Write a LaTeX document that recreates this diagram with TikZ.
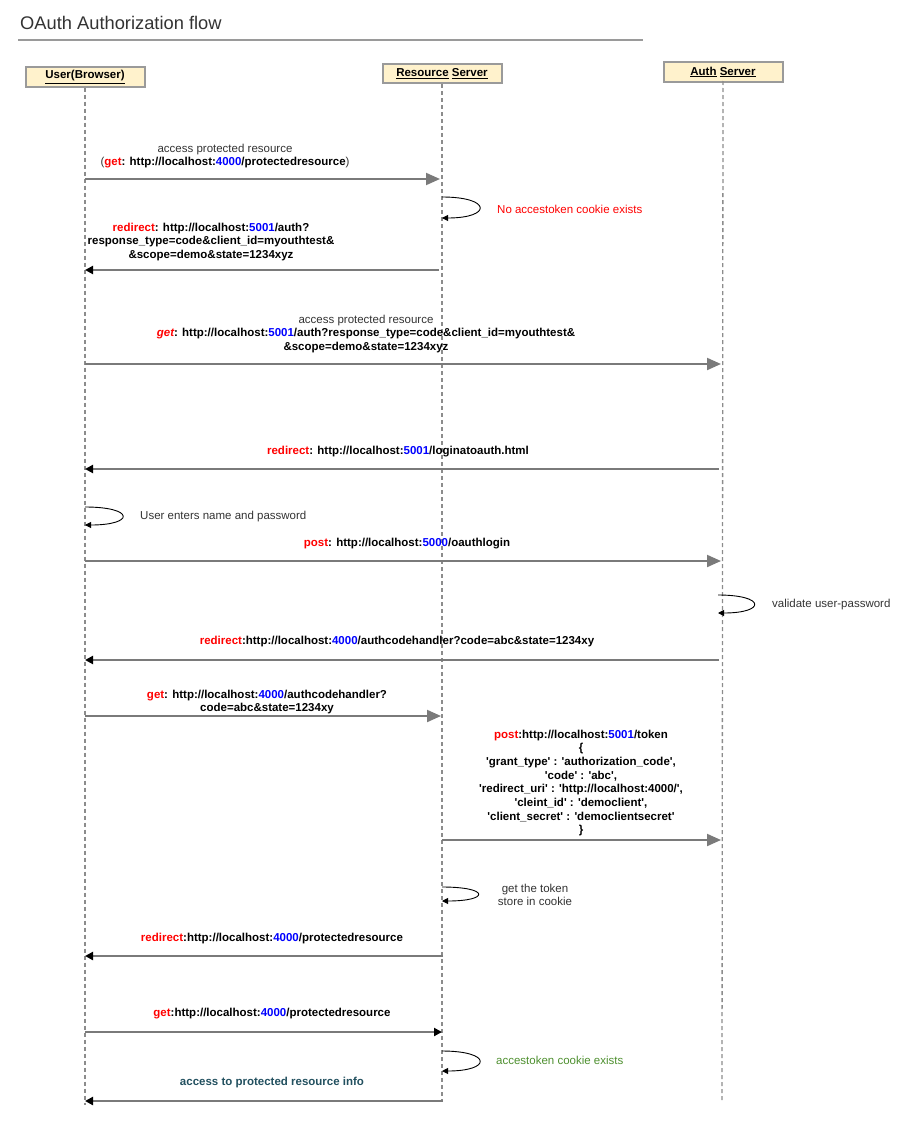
\documentclass[tikz,border=0pt]{standalone}
\usepackage{fontspec}
\setmainfont{Liberation Sans}
\usetikzlibrary{positioning, arrows.meta}

\definecolor{boxfill}{HTML}{FFF2CC}
\definecolor{boxline}{HTML}{9A9A9A}
\definecolor{lifeline}{HTML}{8C8C8C}
\definecolor{msgline}{HTML}{7A7A7A}
\definecolor{txtgray}{HTML}{333333}
\definecolor{methred}{HTML}{FF0000}
\definecolor{portblue}{HTML}{0000FF}
\definecolor{notegreen}{HTML}{4D8F2E}
\definecolor{infoteal}{HTML}{22505F}

\newcommand{\mth}[1]{\textcolor{methred}{#1}}
\newcommand{\prt}[1]{\textcolor{portblue}{#1}}
\newcommand{\sq}{\textquotesingle}

\begin{document}
\begin{tikzpicture}[x=1pt, y=-1pt,
                actor/.style={rectangle, draw=boxline, fill=boxfill, line width=2pt, minimum width=119pt, minimum height=19pt, inner sep=0pt, font=\fontsize{11.5}{13.7}\selectfont\bfseries},
                life/.style={draw=lifeline, line width=1.3pt, dash pattern=on 4pt off 3pt},
                call/.style={draw=msgline, line width=2pt, -{Triangle[length=14pt, width=12pt, color=msgline]}},
                reply/.style={draw=msgline, line width=2pt, -{Triangle[length=8pt, width=8pt, color=black]}},
                selfloop/.style={draw=black, line width=0.9pt, -{Triangle[length=6pt, width=6pt]}},
                lbl/.style={align=center, inner sep=0pt, font=\fontsize{11.5}{13.7}\selectfont\bfseries},
                note/.style={align=left, anchor=west, inner sep=0pt, text=txtgray, font=\fontsize{11.5}{13.7}\selectfont},
                ]
                \useasboundingbox (0,0) rectangle (919,1140);

                %Title
                \node[anchor=west, inner sep=0pt, font=\fontsize{18.3}{21}\selectfont, text=txtgray] (title) at (20,23) {OAuth Authorization flow};
                \draw[boxline, line width=1.5pt] (18,40) -- (643,40);

                %Nodes
                \node[actor]      (user)      at (85,77)     {\underline{User(Browser)}};
                \node[actor]      (resource)  at (442,73.5)  {\underline{Resource} \underline{Server}};
                \node[actor]      (auth)      at (723,72)    {\underline{Auth} \underline{Server}};

                \coordinate (userend)     at (85,1105);
                \coordinate (resourceend) at (442,1101);
                \coordinate (authend)     at (722,1100);

                %Lifelines
                \draw[life] (user.south) -- (userend);
                \draw[life] (resource.south) -- (resourceend);
                \draw[life] (auth.south |- 0,81) -- (authend);

                %Message points
                \coordinate (u1) at (85,179);    \coordinate (r1) at (440,179);
                \coordinate (r3) at (439,270);   \coordinate (u3) at (85,270);
                \coordinate (u4) at (85,364);    \coordinate (a4) at (721,364);
                \coordinate (a5) at (719,469);   \coordinate (u5) at (85,469);
                \coordinate (u7) at (85,561);    \coordinate (a7) at (721,561);
                \coordinate (a9) at (719,660);   \coordinate (u9) at (85,660);
                \coordinate (u10) at (85,716);   \coordinate (r10) at (441,716);
                \coordinate (r11) at (442,840);  \coordinate (a11) at (721,840);
                \coordinate (r13) at (443,956);  \coordinate (u13) at (85,956);
                \coordinate (u14) at (85,1032);  \coordinate (r14) at (442,1032);
                \coordinate (r16) at (443,1101); \coordinate (u16) at (85,1101);

                \coordinate (s1a) at (442,197);  \coordinate (s1b) at (442,218);
                \coordinate (s2a) at (85,507);   \coordinate (s2b) at (85,525);
                \coordinate (s3a) at (718,595);  \coordinate (s3b) at (718,613);
                \coordinate (s4a) at (442,887);  \coordinate (s4b) at (442,901);
                \coordinate (s5a) at (442,1051); \coordinate (s5b) at (442,1071);

                %Lines
                \draw[call]  (u1) -- (r1);
                \draw[reply] (r3) -- (u3);
                \draw[call]  (u4) -- (a4);
                \draw[reply] (a5) -- (u5);
                \draw[call]  (u7) -- (a7);
                \draw[reply] (a9) -- (u9);
                \draw[call]  (u10) -- (r10);
                \draw[call]  (r11) -- (a11);
                \draw[reply] (r13) -- (u13);
                \draw[reply] (u14) -- (r14);
                \draw[reply] (r16) -- (u16);

                \draw[selfloop] (s1a) .. controls +(50,0) and +(50,0) .. (s1b);
                \draw[selfloop] (s2a) .. controls +(50,0) and +(50,0) .. (s2b);
                \draw[selfloop] (s3a) .. controls +(48,0) and +(48,0) .. (s3b);
                \draw[selfloop] (s4a) .. controls +(48,0) and +(48,0) .. (s4b);
                \draw[selfloop] (s5a) .. controls +(50,0) and +(50,0) .. (s5b);

                %Labels
                \node[lbl] (m1lbl) at (225,156) {{\mdseries\color{txtgray}access protected resource}\\{\mdseries\color{txtgray}(}\mth{get}: http://localhost:\prt{4000}/protectedresource{\mdseries\color{txtgray})}};
                \node[lbl] (m3lbl) at (211,242) {\mth{redirect}: http://localhost:\prt{5001}/auth?\\response\_type=code\&client\_id=myouthtest\&\\\&scope=demo\&state=1234xyz};
                \node[lbl] (m4lbl) at (366,334) {{\mdseries\color{txtgray}access protected resource}\\\mth{\itshape get}: http://localhost:\prt{5001}/auth?response\_type=code\&client\_id=myouthtest\&\\\&scope=demo\&state=1234xyz};
                \node[lbl] (m5lbl) at (398,452) {\mth{redirect}: http://localhost:\prt{5001}/loginatoauth.html};
                \node[lbl] (m7lbl) at (407,544) {\mth{post}: http://localhost:\prt{5000}/oauthlogin};
                \node[lbl] (m9lbl) at (397,642) {\mth{redirect}:http://localhost:\prt{4000}/authcodehandler?code=abc\&state=1234xy};
                \node[lbl] (m10lbl) at (267,702) {\mth{get}: http://localhost:\prt{4000}/authcodehandler?\\code=abc\&state=1234xy};
                \node[lbl] (m11lbl) at (581,783) {\mth{post}:http://localhost:\prt{5001}/token\\\{\\\sq grant\_type\sq{} : \sq authorization\_code\sq,\\\sq code\sq{} : \sq abc\sq,\\\sq redirect\_uri\sq{} : \sq http://localhost:4000/\sq,\\\sq cleint\_id\sq{} : \sq democlient\sq,\\\sq client\_secret\sq{} : \sq democlientsecret\sq\\\}};
                \node[lbl] (m13lbl) at (272,939) {\mth{redirect}:http://localhost:\prt{4000}/protectedresource};
                \node[lbl] (m14lbl) at (272,1014) {\mth{get}:http://localhost:\prt{4000}/protectedresource};
                \node[lbl, text=infoteal] (m16lbl) at (272,1083) {access to protected resource info};

                \node[note, text=methred] (s1lbl) at (497,209) {No accestoken cookie exists};
                \node[note] (s2lbl) at (140,517) {User enters name and password};
                \node[note] (s3lbl) at (772,605) {validate user-password};
                \node[note, align=center, anchor=center] (s4lbl) at (535,895) {get the token\\store in cookie};
                \node[note, text=notegreen] (s5lbl) at (496,1060) {accestoken cookie exists};
\end{tikzpicture}
\end{document}
